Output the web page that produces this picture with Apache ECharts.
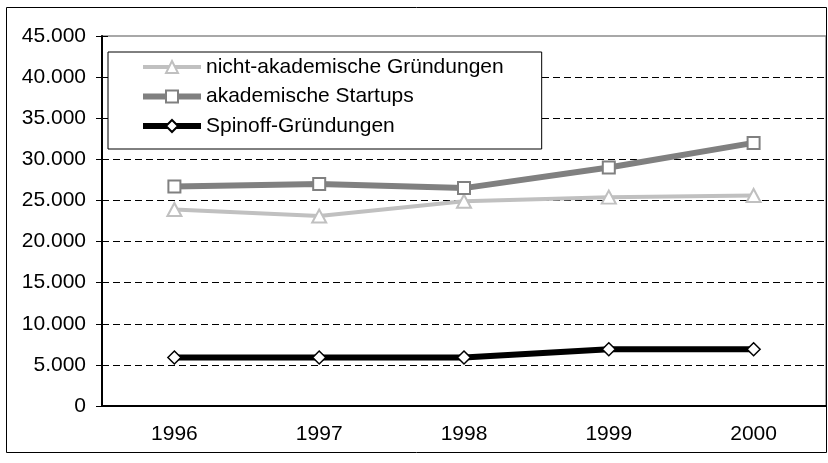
<!DOCTYPE html>
<html>
<head>
<meta charset="utf-8">
<script src="https://cdn.jsdelivr.net/npm/echarts@6/dist/echarts.min.js"></script>
<style>
html,body{margin:0;padding:0;background:#fff;}
#c{width:828px;height:463px;}
</style>
</head>
<body>
<div id="c"></div>
<script>
var categories = ['1996', '1997', '1998', '1999', '2000'];
var nichtAkademisch = [23900, 23100, 24900, 25400, 25600];
var akademischeStartups = [26700, 27000, 26500, 29000, 32000];
var spinoff = [5900, 5900, 5900, 6900, 6900];
var yMin = 0, yMax = 45000, yStep = 5000;

function deFmt(v) {
  return String(v).replace(/\B(?=(\d{3})+(?!\d))/g, '.');
}

var font = 'Liberation Sans, Arial, sans-serif';
var splitColors = [];
for (var i = 0; i <= (yMax - yMin) / yStep; i++) {
  splitColors.push(i === (yMax - yMin) / yStep ? 'rgba(0,0,0,0)' : '#000');
}

var chart = echarts.init(document.getElementById('c'));
chart.setOption({
  animation: false,
  backgroundColor: '#fff',
  textStyle: {fontFamily: font},
  graphic: [{
    type: 'rect',
    shape: {x: 6.5, y: 7.5, width: 820, height: 445},
    style: {fill: 'none', stroke: '#000', lineWidth: 1},
    z: 0
  }],
  grid: {
    left: 102, right: 2, top: 36, bottom: 57,
    show: true, borderColor: '#8c8c8c', borderWidth: 1.5, backgroundColor: 'transparent'
  },
  legend: {
    orient: 'vertical',
    left: 108, top: 52,
    padding: [4, 38, 12, 32],
    itemWidth: 58, itemHeight: 15, itemGap: 7.5,
    backgroundColor: '#fff',
    borderColor: '#000', borderWidth: 1,
    textStyle: {fontFamily: font, fontSize: 21, color: '#000', lineHeight: 22},
    data: [
      {name: 'nicht-akademische Gründungen', lineStyle: {width: 4, color: '#c0c0c0'}},
      {name: 'akademische Startups', lineStyle: {width: 6, color: '#808080'}},
      {name: 'Spinoff-Gründungen', lineStyle: {width: 6, color: '#000'}}
    ]
  },
  xAxis: {
    type: 'category',
    data: categories,
    boundaryGap: true,
    axisLine: {lineStyle: {color: '#000', width: 2}},
    axisTick: {show: false},
    axisLabel: {fontFamily: font, fontSize: 21, color: '#000', margin: 18},
    splitLine: {show: false}
  },
  yAxis: [{
    type: 'value',
    min: yMin, max: yMax, interval: yStep,
    axisLine: {show: true, lineStyle: {color: '#000', width: 2}},
    axisTick: {show: true, length: 6, lineStyle: {color: '#000', width: 1}},
    axisLabel: {fontFamily: font, fontSize: 21, color: '#000', margin: 16, formatter: deFmt},
    splitLine: {show: true, lineStyle: {color: splitColors, width: 1, type: [7, 4]}}
  }, {
    type: 'value',
    position: 'left',
    min: yMin, max: yMax, interval: yStep,
    axisLine: {show: false},
    axisTick: {show: true, inside: true, length: 6, lineStyle: {color: '#000', width: 1}},
    axisLabel: {show: false},
    splitLine: {show: false}
  }],
  series: [{
    name: 'nicht-akademische Gründungen',
    type: 'line',
    data: nichtAkademisch,
    symbol: 'triangle', symbolSize: [14, 13],
    lineStyle: {color: '#c0c0c0', width: 4},
    itemStyle: {color: '#fff', borderColor: '#c0c0c0', borderWidth: 2},
    z: 3
  }, {
    name: 'akademische Startups',
    type: 'line',
    data: akademischeStartups,
    symbol: 'rect', symbolSize: 12,
    lineStyle: {color: '#808080', width: 6},
    itemStyle: {color: '#fff', borderColor: '#808080', borderWidth: 2},
    z: 4
  }, {
    name: 'Spinoff-Gründungen',
    type: 'line',
    data: spinoff,
    symbol: 'diamond', symbolSize: [13, 13],
    lineStyle: {color: '#000', width: 6},
    itemStyle: {color: '#fff', borderColor: '#000', borderWidth: 1.5},
    z: 5
  }]
});
</script>
</body>
</html>
